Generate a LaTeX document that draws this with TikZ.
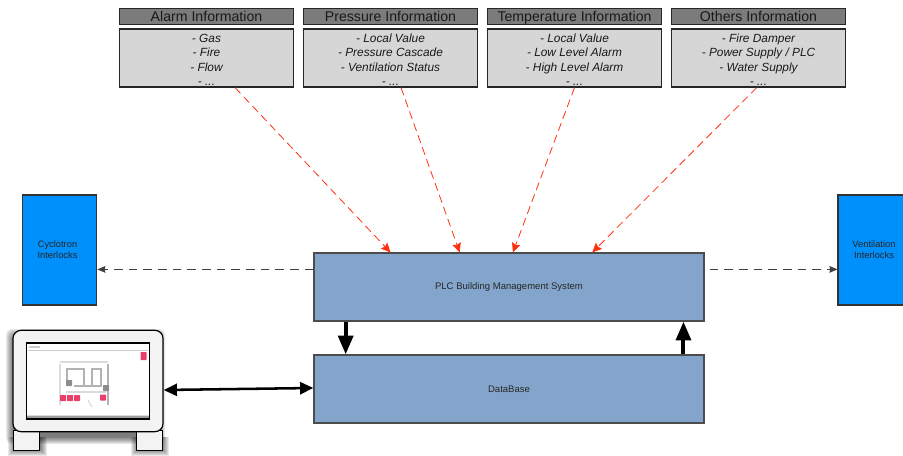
\documentclass[tikz,border=0pt]{standalone}
\usepackage{fontspec}
\setmainfont{Liberation Sans}
\usetikzlibrary{calc,arrows.meta}
\definecolor{headg}{HTML}{7B7B7B}
\definecolor{infog}{HTML}{D6D6D6}
\definecolor{blockb}{HTML}{84A5CB}
\definecolor{ilock}{HTML}{0090FC}
\definecolor{redarrow}{HTML}{FF3010}
\definecolor{scr}{HTML}{F3F3F3}
\definecolor{pinkr}{HTML}{E8406A}
\newcommand{\dropline}{\rule{0pt}{9pt}}
\tikzset{
 x=0.75pt,y=-0.75pt,
 head/.style={draw=black!85,line width=0.9pt,fill=headg,minimum width=130.5pt,minimum height=12.5pt,inner sep=0pt,text height=9pt,text depth=1.5pt,font=\fontsize{10.6}{12}\selectfont,text=black!90},
 info/.style={draw=black!85,line width=0.9pt,fill=infog,minimum width=130.5pt,minimum height=43.5pt,inner sep=0pt,align=center,font=\fontsize{8.9}{10.7}\itshape\selectfont,text=black!90},
 block/.style={draw=black!70,line width=0.9pt,fill=blockb,minimum width=292.5pt,minimum height=51pt,inner sep=0pt,font=\fontsize{7.15}{9}\selectfont,text=black!85},
 ilockbox/.style={draw=black!80,line width=0.8pt,fill=ilock,minimum width=56pt,minimum height=82.5pt,inner sep=0pt,align=center,font=\fontsize{7}{8.2}\selectfont,text=black!85},
 redconn/.style={draw=redarrow,line width=0.6pt,dash pattern=on 6pt off 3.5pt,-{Stealth[length=7pt,width=6.5pt,inset=1pt]}},
 dashconn/.style={draw=black!75,line width=0.75pt,dash pattern=on 6.5pt off 4.5pt,-{Stealth[length=6pt,width=5pt,inset=0.5pt]}},
 boldconn/.style={draw=black,line width=3pt,-{Stealth[length=14pt,width=11pt,inset=0pt]}},
 monpart/.style={draw=black,line width=0.9pt,fill=scr},
 scrbox/.style={inner sep=0pt,minimum size=4.5pt,rounded corners=0.5pt},
 softline/.style={black,opacity=.14},
}
\begin{document}
\begin{tikzpicture}
\useasboundingbox (0,0) rectangle (903,456);
% headers
\node[head] (h1) at (206.5,16.5) {Alarm Information};
\node[head] (h2) at (390.5,16.5) {Pressure Information};
\node[head] (h3) at (574.5,16.5) {Temperature Information};
\node[head] (h4) at (758.5,16.5) {Others Information};
% info boxes
\node[info] (i1) at (206.5,58) {\dropline - Gas\\- Fire\\- Flow\\- ...};
\node[info] (i2) at (390.5,58) {\dropline - Local Value\\- Pressure Cascade\\- Ventilation Status\\- ...};
\node[info] (i3) at (574.5,58) {\dropline - Local Value\\- Low Level Alarm\\- High Level Alarm\\- ...};
\node[info] (i4) at (758.5,58) {\dropline - Fire Damper\\- Power Supply / PLC\\- Water Supply\\- ...};
% main blocks
\node[block] (plc) at (509,287) {PLC Building Management System};
\node[block] (db) at (509,389) {DataBase};
\node[ilockbox] (cyc) at (59.5,250) {\hspace*{-3pt}Cyclotron\\\hspace*{-3pt}Interlocks};
\node[ilockbox,minimum width=60pt] (ven) at (878,250) {\hspace*{-6pt}Ventilation\\\hspace*{-6pt}Interlocks};
% monitor shadow
\foreach \d in {0,1,2,3,4,5,6,7} {
  \fill[black,opacity=.085,rounded corners=4pt] (13-\d,336-\d) rectangle (163+\d-5,437+\d);
  \fill[black,opacity=.085] (15-\d,437) rectangle (40+\d,449+\d);
  \fill[black,opacity=.085] (138-\d,437) rectangle (162+\d,449+\d);
}
\node[monpart,minimum width=20pt,minimum height=15pt,inner sep=0pt] (footl) at (26.5,440.5) {};
\node[monpart,minimum width=20pt,minimum height=15pt,inner sep=0pt] (footr) at (149.5,440.5) {};
\node[monpart,rounded corners=6pt,minimum width=112.5pt,minimum height=76pt,inner sep=0pt] (mon) at (88,381) {};
\node[draw=black,line width=0.9pt,fill=white,minimum width=92.5pt,minimum height=57pt,inner sep=0pt] (screen) at (88,381) {};
% screen content
\fill[softline] (27,414.5) rectangle (148.5,418.5);
\fill[black,opacity=.28] (27,415.5) rectangle (148.5,417.5);
\draw[black,opacity=.2,line width=0.8pt] (28,350.5) -- (148,350.5);
\draw[black,opacity=.2,line width=1.2pt] (29,347) -- (40,347);
\draw[black,opacity=.14,line width=1pt] (60,364) -- (60,405);
\draw[black,opacity=.14,line width=1pt] (60,362) -- (108,362);
\draw[black,opacity=.3,line width=1pt] (108,364) -- (108,405);
\draw[black,opacity=.14,line width=1pt] (66,392) -- (106,392);
\draw[black,opacity=.3,line width=1pt] (67,383) -- (67,369) -- (84,369) -- (84,386) -- (92,386) -- (92,369) -- (101,369) -- (101,386) -- (74,386);
\draw[black,opacity=.14,line width=.8pt] (88,400) -- (92,407);
\node[scrbox,fill=pinkr,minimum height=6pt] (r0) at (143.5,356) {};
\node[scrbox,fill=black!45] (g1) at (69,383) {};
\node[scrbox,fill=black!45] (g2) at (106,388) {};
\node[scrbox,fill=pinkr] (r1) at (63,398) {};
\node[scrbox,fill=pinkr] (r2) at (70,398) {};
\node[scrbox,fill=pinkr] (r3) at (77,398) {};
\node[scrbox,fill=pinkr] (r4) at (103,397.5) {};
% connectors
\draw[redconn] ($(i1.south west)!0.663!(i1.south east)$) -- ($(plc.north west)!0.197!(plc.north east)$);
\draw[redconn] ($(i2.south west)!0.56!(i2.south east)$) -- ($(plc.north west)!0.374!(plc.north east)$);
\draw[redconn] ($(i3.south west)!0.5!(i3.south east)$) -- ($(plc.north west)!0.51!(plc.north east)$);
\draw[redconn] ($(i4.south west)!0.49!(i4.south east)$) -- ($(plc.north west)!0.713!(plc.north east)$);
\coordinate (lstart) at ($(plc.north west)+(0,17)$);
\coordinate (rstart) at ($(plc.north east)+(5,17)$);
\draw[dashconn] (lstart) -- (cyc.east |- lstart);
\draw[dashconn] (rstart) -- (ven.west |- rstart);
\draw[boldconn] ($(plc.south west)!0.0825!(plc.south east)$) -- ($(db.north west)!0.0825!(db.north east)$);
\draw[boldconn] ($(db.north west)!0.946!(db.north east)$) -- ($(plc.south west)!0.946!(plc.south east)$);
\draw[draw=black,line width=1.9pt,{Stealth[length=10pt,width=9pt,inset=0pt]}-{Stealth[length=10pt,width=9pt,inset=0pt]}] (mon.east |- 0,390) -- (db.west |- 0,388);
\end{tikzpicture}
\end{document}
